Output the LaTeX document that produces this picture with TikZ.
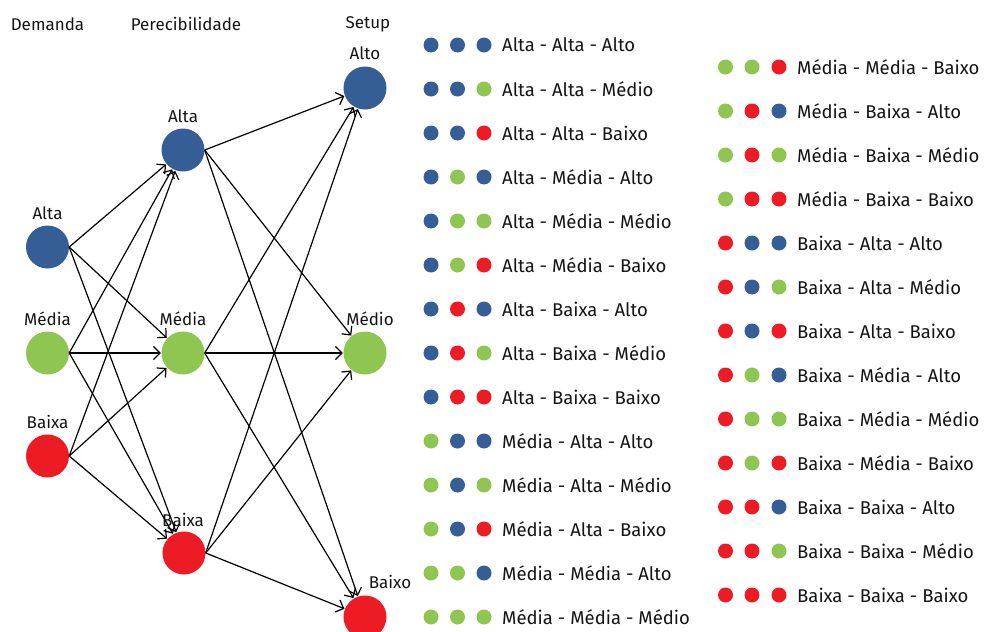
\documentclass[tikz,border=0pt]{standalone}
\usepackage{fontspec}
\setmainfont{Fira Sans}
\usetikzlibrary{arrows.meta}
\definecolor{cblue}{RGB}{54,94,150}
\definecolor{cgreen}{RGB}{143,198,81}
\definecolor{cred}{RGB}{237,28,36}
\definecolor{ctext}{RGB}{20,20,20}
\tikzset{
  big/.style={circle,minimum size=43pt,inner sep=0pt,fill=#1},
  dot/.style={circle,minimum size=15pt,inner sep=0pt,fill=#1},
  lab/.style={font=\fontsize{17}{19}\selectfont,text=ctext,inner sep=0pt},
  leg/.style={font=\fontsize{18.5}{20}\selectfont,text=ctext,inner sep=0pt,anchor=west},
  edge/.style={draw=black,line width=1.2pt,-{Straight Barb[length=6.5pt,width=13pt,line width=1.2pt]},shorten >=0.5pt}
}
\begin{document}
\begin{tikzpicture}[x=1pt,y=-1pt]
\useasboundingbox (0,0) rectangle (986,632);
% headers
\node[lab] (hd) at (47.5,24) {Demanda};
\node[lab] (hp) at (186,24) {Perecibilidade};
\node[lab] (hs) at (368,24) {Setup};
% circles
\node[big=cblue]  (LA) at (47.5,247) {};
\node[big=cgreen] (LM) at (47.5,353) {};
\node[big=cred]   (LB) at (47.5,456) {};
\node[big=cblue]  (MA) at (183,150) {};
\node[big=cgreen] (MM) at (183,353) {};
\node[big=cred]   (MB) at (184,553) {};
\node[big=cblue]  (RA) at (365,88) {};
\node[big=cgreen] (RM) at (365,353) {};
\node[big=cred]   (RB) at (365,617) {};
% labels
\node[lab] (tLA) at (47.5,213) {Alta};
\node[lab] (tLM) at (47.5,319) {Média};
\node[lab] (tLB) at (47.5,422) {Baixa};
\node[lab] (tMA) at (183,116) {Alta};
\node[lab] (tMM) at (183,319) {Média};
\node[lab] (tMB) at (183,520) {Baixa};
\node[lab] (tRA) at (365,53) {Alto};
\node[lab] (tRM) at (370,319) {Médio};
\node[lab] (tRB) at (390,582) {Baixo};
% edges
\foreach \s in {LA,LM,LB}{\foreach \t in {MA,MM,MB}{\draw[edge] (\s.east) -- (\t);}}
\foreach \s in {MA,MM,MB}{\foreach \t in {RA,RM,RB}{\draw[edge] (\s.east) -- (\t);}}
% legend column 1
\foreach \a/\b/\c/\txt [count=\i from 0] in {
 cblue/cblue/cblue/Alta - Alta - Alto,
 cblue/cblue/cgreen/Alta - Alta - Médio,
 cblue/cblue/cred/Alta - Alta - Baixo,
 cblue/cgreen/cblue/Alta - Média - Alto,
 cblue/cgreen/cgreen/Alta - Média - Médio,
 cblue/cgreen/cred/Alta - Média - Baixo,
 cblue/cred/cblue/Alta - Baixa - Alto,
 cblue/cred/cgreen/Alta - Baixa - Médio,
 cblue/cred/cred/Alta - Baixa - Baixo,
 cgreen/cblue/cblue/Média - Alta - Alto,
 cgreen/cblue/cgreen/Média - Alta - Médio,
 cgreen/cblue/cred/Média - Alta - Baixo,
 cgreen/cgreen/cblue/Média - Média - Alto,
 cgreen/cgreen/cgreen/Média - Média - Médio}{
  \pgfmathsetmacro{\yy}{45+44*\i}
  \node[dot=\a] (pa\i) at (431,\yy) {};
  \node[dot=\b] (pb\i) at (457.5,\yy) {};
  \node[dot=\c] (pc\i) at (484,\yy) {};
  \node[leg] (pt\i) at (502,\yy) {\txt};
}
% legend column 2
\foreach \a/\b/\c/\txt [count=\i from 0] in {
 cgreen/cgreen/cred/Média - Média - Baixo,
 cgreen/cred/cblue/Média - Baixa - Alto,
 cgreen/cred/cgreen/Média - Baixa - Médio,
 cgreen/cred/cred/Média - Baixa - Baixo,
 cred/cblue/cblue/Baixa - Alta - Alto,
 cred/cblue/cgreen/Baixa - Alta - Médio,
 cred/cblue/cred/Baixa - Alta - Baixo,
 cred/cgreen/cblue/Baixa - Média - Alto,
 cred/cgreen/cgreen/Baixa - Média - Médio,
 cred/cgreen/cred/Baixa - Média - Baixo,
 cred/cred/cblue/Baixa - Baixa - Alto,
 cred/cred/cgreen/Baixa - Baixa - Médio,
 cred/cred/cred/Baixa - Baixa - Baixo}{
  \pgfmathsetmacro{\yy}{67+44*\i}
  \node[dot=\a] (qa\i) at (725.5,\yy) {};
  \node[dot=\b] (qb\i) at (752,\yy) {};
  \node[dot=\c] (qc\i) at (779,\yy) {};
  \node[leg] (qt\i) at (797,\yy) {\txt};
}
\end{tikzpicture}
\end{document}
